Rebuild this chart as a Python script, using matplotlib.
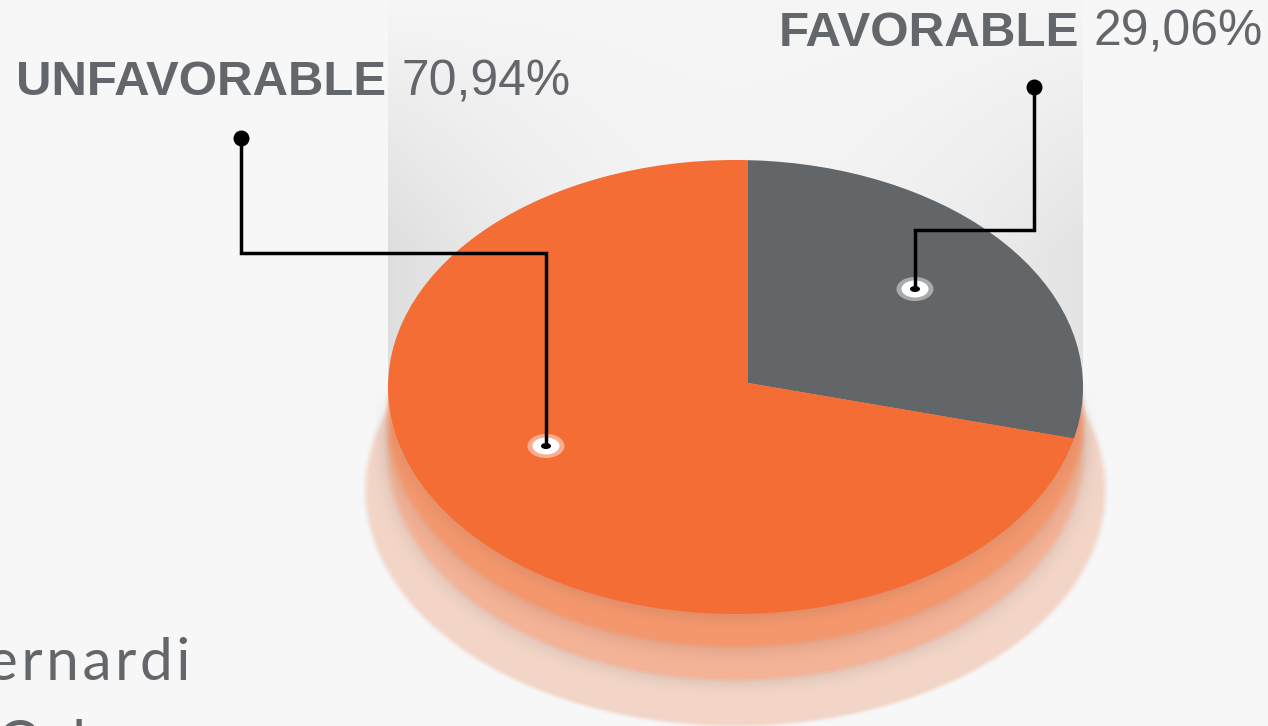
import numpy as np
import matplotlib
matplotlib.use("Agg")
import matplotlib.pyplot as plt
from matplotlib.patches import Ellipse

labels = ["FAVORABLE", "UNFAVORABLE"]
values = [29.06, 70.94]
colors = ["#636669", "#f46d35"]

W, H = 1268, 726
TEXT_COLOR = "#63666a"
BG = np.array([247, 247, 247]) / 255
PIE_TIP = (748, 383)
PIE_CENTER = (735.5, 387)
PIE_RX, PIE_RY = 347.5, 227


def soft_ellipse(xx, yy, cx, cy, rx, ry, blur):
    # alpha of an ellipse with a blurry edge, blur is in pixels
    d = (np.sqrt(((xx - cx) / rx) ** 2 + ((yy - cy) / ry) ** 2) - 1) * min(rx, ry)
    t = np.clip(0.5 - d / blur, 0, 1)
    return t * t * (3 - 2 * t)


def over(img, alpha, color):
    return img * (1 - alpha[..., None]) + np.array(color) * alpha[..., None]


def make_background():
    xx, yy = np.meshgrid(np.arange(W) + 0.5, np.arange(H) + 0.5)
    img = np.ones((H, W, 3)) * BG

    # grey panel behind the pie, darker towards the lower corners
    dx = (xx - PIE_CENTER[0]) / PIE_RX
    side = np.where(dx < 0, 21, 16)
    down = np.clip(yy / 250, 0, 1)
    shade = 246 - side * dx ** 2 * down - 3 * down
    panel = (np.abs(dx) <= 1) & (yy < 430)
    img[panel] = (shade[panel] / 255)[..., None]

    # stacked discs under the pie, each drops a small shadow on the one below
    discs = [
        (735.5, 490, 370, 236, "#f2d5c7", 6),
        (735.5, 453, 347.5, 227, "#f4b296", 7),
        (735.5, 420, 347.5, 227, "#f4976d", 7),
    ]
    lower = np.clip((yy - 390) / 50, 0, 1)  # no shadow on the grey panel
    for i, (cx, cy, rx, ry, col, blur) in enumerate(discs):
        if i > 0:
            img = over(img, 0.12 * lower * soft_ellipse(xx, yy, cx, cy + 3, rx + 3, ry + 3, 22),
                       (0.35, 0.3, 0.28))
        img = over(img, soft_ellipse(xx, yy, cx, cy, rx, ry, blur), matplotlib.colors.to_rgb(col))
    img = over(img, 0.12 * lower * soft_ellipse(xx, yy, PIE_CENTER[0], PIE_CENTER[1] + 3, PIE_RX + 2, PIE_RY + 3, 20),
               (0.35, 0.3, 0.28))
    return np.clip(img, 0, 1)


def pct(v):
    return f"{v:.2f}%".replace(".", ",")


def callout(ax, path_x, path_y, ring):
    ax.plot(path_x[0], path_y[0], "o", color="k", ms=11.5, mew=0)
    cx, cy = ring
    ax.add_patch(Ellipse((cx, cy), 37, 24, fc="w", ec="none", alpha=0.45))
    ax.add_patch(Ellipse((cx, cy), 27, 17, fc="w", ec="none"))
    ax.add_patch(Ellipse((cx, cy), 10, 6, fc="k", ec="none"))
    ax.plot(path_x, path_y, color="k", lw=2.5, solid_joinstyle="miter")


fig = plt.figure(figsize=(W / 100, H / 100), dpi=100)
fig.patch.set_facecolor(BG)

ax = fig.add_axes([0, 0, 1, 1], zorder=0)
ax.imshow(make_background(), extent=(0, W, H, 0), interpolation="nearest")
ax.set_xlim(0, W)
ax.set_ylim(H, 0)
ax.axis("off")

# the pie is squashed by giving x and y different scales, the tip sits off centre
ax_pie = fig.add_axes([0, 0, 1, 1], zorder=1)
wedges, _ = ax_pie.pie(values, colors=colors, startangle=90, counterclock=False, radius=4)
ax_pie.set_aspect("auto")
ax_pie.set_xlim((0 - PIE_TIP[0]) / PIE_RX, (W - PIE_TIP[0]) / PIE_RX)
ax_pie.set_ylim((PIE_TIP[1] - H) / PIE_RY, PIE_TIP[1] / PIE_RY)
ax_pie.patch.set_alpha(0)
ax_pie.axis("off")
outline = Ellipse(((PIE_CENTER[0] - PIE_TIP[0]) / PIE_RX, (PIE_TIP[1] - PIE_CENTER[1]) / PIE_RY),
                  2, 2, transform=ax_pie.transData)
for w in wedges:
    w.set_clip_on(True)  # pie turns clipping off
    w.set_clip_path(outline)

ax_top = fig.add_axes([0, 0, 1, 1], zorder=2)
ax_top.set_xlim(0, W)
ax_top.set_ylim(H, 0)
ax_top.patch.set_alpha(0)
ax_top.axis("off")

callout(ax_top, [241, 241, 546, 546], [138, 253, 253, 446], (546, 446))
callout(ax_top, [1034, 1034, 915, 915], [87, 230, 230, 288], (915, 289))

font = ["Liberation Sans", "DejaVu Sans"]
ax_top.text(16, 95, labels[1], color=TEXT_COLOR, fontsize=35.4, fontweight="bold", family=font)
ax_top.text(401, 95, pct(values[1]), color=TEXT_COLOR, fontsize=35.9, family=font)
ax_top.text(779, 46, labels[0], color=TEXT_COLOR, fontsize=35.6, fontweight="bold", family=font)
ax_top.text(1093, 46, pct(values[0]), color=TEXT_COLOR, fontsize=35.9, family=font)

# name cut off by the lower left edge of the slide
hair = "\u200a"
ax_top.text(-13, 680, hair.join("ernardi"), color=TEXT_COLOR, fontsize=42, family=["Lato", "DejaVu Sans"],
            clip_on=True)
ax_top.text(-3, 762, hair.join("Cal"), color=TEXT_COLOR, fontsize=42, family=["Lato", "DejaVu Sans"],
            clip_on=True)

fig.savefig("out.png", dpi=100, facecolor=fig.get_facecolor())
